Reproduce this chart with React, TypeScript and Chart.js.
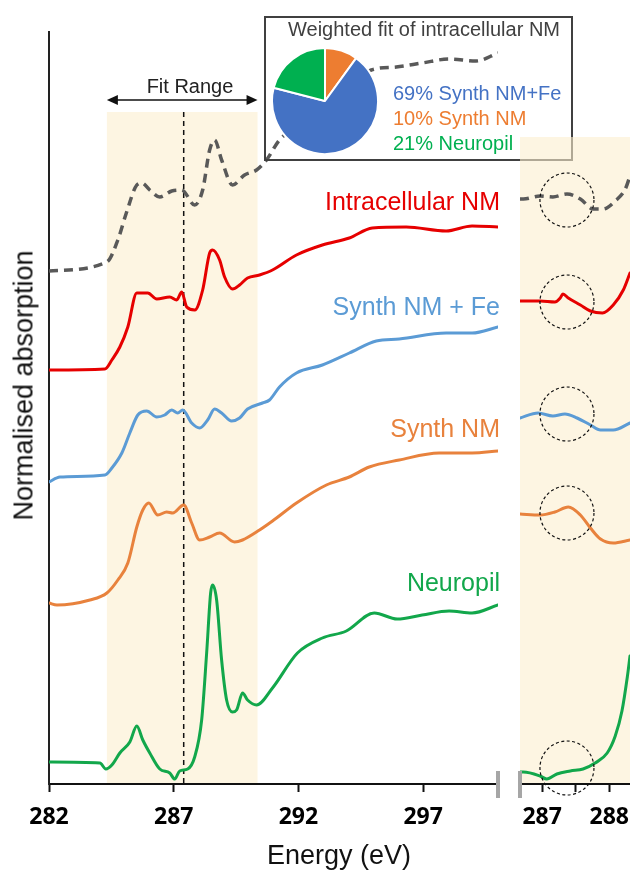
import React, { useEffect, useRef } from "react";
import { Chart, registerables } from "chart.js";

Chart.register(...registerables);

const W = 630;
const H = 870;

// ---------------- data (energy in eV, offset normalised absorption) ----------------
const fitE = [282, 284.32, 284.76, 285.1, 285.52, 285.72, 286.04, 286.44, 286.92, 287.32, 287.84, 288.16, 288.44, 288.64, 288.92, 289.36, 289.84, 290.32, 290.72, 291.24, 292.2, 293.2, 294.1, 294.92, 295.92, 296.96, 298.04, 299.12, 300];
const fitY = [513, 522, 544, 571, 599, 601, 594, 587, 593, 594, 579, 594, 634, 644, 624, 599, 609, 614, 624, 644, 662, 680, 697, 714, 717, 721, 725, 723, 731];

const intraE = [282, 284.24, 284.52, 284.84, 285.16, 285.52, 285.96, 286.32, 286.84, 287.12, 287.32, 287.52, 287.84, 288.16, 288.44, 288.56, 288.84, 289.04, 289.36, 289.64, 289.96, 290.44, 290.96, 291.92, 292.96, 294.04, 294.96, 296.32, 297.92, 298.96, 300];
const intraY = [414, 415, 424, 437, 457, 491, 491, 485, 487, 484, 492, 477, 474, 494, 531, 534, 524, 507, 495, 499, 506, 509, 514, 529, 539, 546, 556, 557, 553, 558, 557];

const feE = [282, 282.44, 284.24, 284.52, 284.92, 285.24, 285.56, 285.92, 286.32, 286.64, 286.92, 287.16, 287.36, 287.72, 288.04, 288.36, 288.64, 288.92, 289.32, 289.64, 289.96, 290.56, 290.84, 291.24, 291.92, 292.96, 294.04, 295.12, 296.04, 297.92, 298.96, 300];
const feY = [302, 307, 309, 316, 331, 351, 369, 373, 367, 369, 374, 371, 374, 361, 356, 364, 375, 371, 363, 366, 375, 381, 384, 397, 411, 419, 431, 443, 445, 451, 451, 457];

const nmE = [282, 282.32, 283.64, 284.32, 284.76, 285.16, 285.52, 285.76, 286.0, 286.36, 286.72, 286.96, 287.4, 287.72, 288.04, 288.44, 288.84, 289.44, 289.76, 290.44, 290.96, 291.92, 293.12, 294.04, 294.84, 296.04, 297.64, 298.96, 300];
const nmY = [181, 179, 184, 191, 204, 221, 257, 274, 281, 269, 272, 271, 279, 261, 244, 247, 251, 242, 244, 254, 263, 281, 299, 307, 317, 324, 331, 331, 333];

const npE = [282, 284.04, 284.28, 284.52, 284.84, 285.24, 285.52, 285.76, 286.04, 286.44, 286.84, 287.04, 287.24, 287.56, 287.84, 288.12, 288.32, 288.48, 288.56, 288.72, 288.92, 289.12, 289.36, 289.52, 289.76, 289.96, 290.32, 290.96, 291.96, 292.96, 293.92, 295.04, 295.96, 296.96, 298.04, 298.96, 300];
const npY = [22, 21, 15, 19, 31, 42, 58, 44, 31, 15, 11, 5, 13, 15, 27, 64, 131, 191, 199, 184, 124, 84, 72, 74, 91, 84, 79, 96, 131, 146, 153, 171, 165, 169, 173, 171, 179];

// zoomed panel (286.7 - 288.3 eV)
const zFitE = [286.67, 286.72, 286.97, 287.16, 287.37, 287.57, 287.76, 287.91, 288.09, 288.24, 288.31];
const zFitY = [585, 585, 588, 587, 590, 585, 575, 575, 583, 595, 608];
const zIntraE = [286.67, 286.97, 287.19, 287.27, 287.31, 287.39, 287.57, 287.72, 287.9, 288.06, 288.21, 288.31];
const zIntraY = [483, 483, 482, 486, 490, 486, 479, 473, 471, 479, 494, 511];
const zFeE = [286.67, 286.94, 287.16, 287.34, 287.52, 287.72, 287.87, 288.06, 288.31];
const zFeY = [366, 371, 368, 370, 366, 359, 354, 354, 361];
const zNmE = [286.67, 286.97, 287.19, 287.39, 287.57, 287.72, 287.87, 288.06, 288.31];
const zNmY = [270, 269, 272, 277, 269, 256, 245, 241, 244];
const zNpE = [286.67, 286.72, 286.97, 287.07, 287.22, 287.42, 287.61, 287.79, 287.97, 288.09, 288.19, 288.27, 288.31];
const zNpY = [12, 12, 8, 5, 10, 13, 15, 21, 31, 48, 73, 107, 128];

const mainTicks = [282, 287, 292, 297];
const zoomTicks = [287, 287.5, 288];
const zoomTickLabels = ["287", "", "288"];
const mainRange = [282, 300];
const zoomRange = [286.67, 288.31];
const yRange = [0, 752];
const fitRange = [284.32, 290.36];
const fitBandTop = 672;
const zoomBandTop = 647;
const arrowLevel = 684;
const markerE = 287.4;
const circleE = 287.37;
const circleY = [584, 482, 370, 271, 16];

const pieLabels = ["Synth NM", "Synth NM+Fe", "Neuropil"];
const pieValues = [10, 69, 21];

// ---------------- styles ----------------
const C = {
  fit: "#595959",
  intra: "#E60000",
  fe: "#5B9BD5",
  nm: "#E8823D",
  np: "#12A74B",
  pieBlue: "#4472C4",
  pieOrange: "#ED7D31",
  pieGreen: "#00B050",
};
const SANS = "'Liberation Sans', Arial, sans-serif";

function pts(xs: number[], ys: number[]) {
  return xs.map((x, i) => ({ x, y: ys[i] }));
}

function lineDs(xs: number[], ys: number[], color: string, dashed = false) {
  return {
    data: pts(xs, ys),
    borderColor: color,
    borderWidth: dashed ? 3.5 : 3,
    borderDash: dashed ? [9, 6] : [],
    borderCapStyle: dashed ? "butt" : "round",
    borderJoinStyle: "round",
    pointRadius: 0,
    fill: false,
    cubicInterpolationMode: "monotone",
  } as any;
}

const tickFont = { family: "'Open Sans', 'DejaVu Sans', sans-serif", weight: "bold" as const, size: 23 };

function xAxis(range: number[], ticks: number[], labels: string[] | null) {
  return {
    type: "linear",
    min: range[0],
    max: range[1],
    afterBuildTicks: (s: any) => {
      s.ticks = ticks.map((v) => ({ value: v }));
    },
    afterFit: (s: any) => {
      s.height = H - 784;
      s.paddingLeft = 0;
      s.paddingRight = 0;
    },
    grid: { display: true, drawOnChartArea: false, drawTicks: true, tickLength: 8, tickColor: "#111", tickWidth: 2 },
    border: { display: true, color: "#111", width: 2 },
    ticks: {
      font: tickFont,
      color: "#000",
      padding: 12,
      maxRotation: 0,
      autoSkip: false,
      callback: (v: any, i: number) => (labels ? labels[i] : String(v)),
    },
  } as any;
}

const mainDecor = {
  id: "mainDecor",
  beforeDraw(chart: any) {
    const { ctx, scales } = chart;
    const x = scales.x, y = scales.y;
    const x0 = x.getPixelForValue(fitRange[0]);
    const x1 = x.getPixelForValue(fitRange[1]);
    const yt = y.getPixelForValue(fitBandTop);
    const yb = y.getPixelForValue(0);
    ctx.save();
    ctx.fillStyle = "#FDF5E2";
    ctx.fillRect(x0, yt, x1 - x0, yb - yt);
    ctx.restore();
  },
  beforeDatasetsDraw(chart: any) {
    const { ctx, scales } = chart;
    const x = scales.x, y = scales.y;
    const xm = x.getPixelForValue(markerE);
    ctx.save();
    ctx.strokeStyle = "#111";
    ctx.lineWidth = 1.5;
    ctx.setLineDash([5, 4]);
    ctx.beginPath();
    ctx.moveTo(xm, y.getPixelForValue(fitBandTop));
    ctx.lineTo(xm, y.getPixelForValue(0));
    ctx.stroke();
    ctx.restore();
  },
  afterDraw(chart: any) {
    const { ctx, scales } = chart;
    const x = scales.x, y = scales.y;
    const x0 = x.getPixelForValue(fitRange[0]);
    const x1 = x.getPixelForValue(fitRange[1]);
    const ya = y.getPixelForValue(arrowLevel);
    ctx.save();
    ctx.strokeStyle = "#111";
    ctx.fillStyle = "#111";
    ctx.lineWidth = 1.5;
    ctx.beginPath();
    ctx.moveTo(x0 + 6, ya);
    ctx.lineTo(x1 - 6, ya);
    ctx.stroke();
    ctx.beginPath();
    ctx.moveTo(x0, ya);
    ctx.lineTo(x0 + 11, ya - 5);
    ctx.lineTo(x0 + 11, ya + 5);
    ctx.closePath();
    ctx.fill();
    ctx.beginPath();
    ctx.moveTo(x1, ya);
    ctx.lineTo(x1 - 11, ya - 5);
    ctx.lineTo(x1 - 11, ya + 5);
    ctx.closePath();
    ctx.fill();
    // axis break mark
    const xb = x.getPixelForValue(mainRange[1]);
    const yb = y.getPixelForValue(0);
    ctx.fillStyle = "#A6A6A6";
    ctx.fillRect(xb - 2, yb - 13, 4, 27);
    ctx.restore();
  },
};

const zoomDecor = {
  id: "zoomDecor",
  beforeDraw(chart: any) {
    const { ctx, scales, chartArea } = chart;
    const y = scales.y;
    const yt = y.getPixelForValue(zoomBandTop);
    const yb = y.getPixelForValue(0);
    ctx.save();
    ctx.fillStyle = "rgba(252,238,206,0.6)";
    ctx.fillRect(chartArea.left, yt, chartArea.right - chartArea.left, yb - yt);
    ctx.restore();
  },
  afterDatasetsDraw(chart: any) {
    const { ctx, scales } = chart;
    const x = scales.x, y = scales.y;
    const cx = x.getPixelForValue(circleE);
    ctx.save();
    ctx.strokeStyle = "#111";
    ctx.lineWidth = 1.2;
    ctx.setLineDash([3, 2.5]);
    circleY.forEach((v) => {
      ctx.beginPath();
      ctx.arc(cx, y.getPixelForValue(v), 27, 0, Math.PI * 2);
      ctx.stroke();
    });
    ctx.restore();
  },
  afterDraw(chart: any) {
    const { ctx, scales } = chart;
    const x = scales.x, y = scales.y;
    const xb = x.left;
    const yb = y.getPixelForValue(0);
    ctx.save();
    ctx.fillStyle = "#A6A6A6";
    ctx.fillRect(xb - 2, yb - 13, 4, 27);
    ctx.restore();
  },
};

function Label(props: { text: string; x: number; base: number; size: number; color: string; align?: "left" | "right" | "center" }) {
  const { text, x, base, size, color, align = "left" } = props;
  const top = base - 0.8465 * size;
  const style: any = {
    position: "absolute",
    top,
    fontFamily: SANS,
    fontSize: size,
    lineHeight: `${size}px`,
    color,
    whiteSpace: "nowrap",
    zIndex: 5,
  };
  if (align === "left") style.left = x;
  else if (align === "right") style.right = W - x;
  else {
    style.left = x - 300;
    style.width = 600;
    style.textAlign = "center";
  }
  return <div style={style}>{text}</div>;
}

export default function App() {
  const mainRef = useRef<HTMLCanvasElement | null>(null);
  const zoomRef = useRef<HTMLCanvasElement | null>(null);
  const pieRef = useRef<HTMLCanvasElement | null>(null);

  useEffect(() => {
    const yAxisMain = {
      min: yRange[0],
      max: yRange[1],
      display: true,
      grid: { display: false },
      ticks: { display: false },
      border: { display: true, color: "#222", width: 2 },
      afterFit: (s: any) => {
        s.width = 49;
      },
    } as any;

    const main = new Chart(mainRef.current as HTMLCanvasElement, {
      type: "line",
      data: {
        datasets: [
          lineDs(npE, npY, C.np),
          lineDs(nmE, nmY, C.nm),
          lineDs(feE, feY, C.fe),
          lineDs(intraE, intraY, C.intra),
          lineDs(fitE, fitY, C.fit, true),
        ],
      },
      options: {
        responsive: false,
        animation: false,
        events: [],
        layout: { padding: { left: 0, top: 32, right: W - 498, bottom: 0 } },
        plugins: { legend: { display: false }, tooltip: { enabled: false } },
        scales: { x: xAxis(mainRange, mainTicks, null), y: yAxisMain },
      },
      plugins: [mainDecor],
    } as any);

    const zoom = new Chart(zoomRef.current as HTMLCanvasElement, {
      type: "line",
      data: {
        datasets: [
          lineDs(zNpE, zNpY, C.np),
          lineDs(zNmE, zNmY, C.nm),
          lineDs(zFeE, zFeY, C.fe),
          lineDs(zIntraE, zIntraY, C.intra),
          lineDs(zFitE, zFitY, C.fit, true),
        ],
      },
      options: {
        responsive: false,
        animation: false,
        events: [],
        layout: { padding: { left: 520, top: 32, right: 0, bottom: 0 } },
        plugins: { legend: { display: false }, tooltip: { enabled: false } },
        scales: {
          x: xAxis(zoomRange, zoomTicks, zoomTickLabels),
          y: { min: yRange[0], max: yRange[1], display: false },
        },
      },
      plugins: [zoomDecor],
    } as any);

    const pie = new Chart(pieRef.current as HTMLCanvasElement, {
      type: "pie",
      data: {
        labels: pieLabels,
        datasets: [
          {
            data: pieValues,
            backgroundColor: [C.pieOrange, C.pieBlue, C.pieGreen],
            borderColor: "#ffffff",
            borderWidth: 2,
          },
        ],
      },
      options: {
        responsive: false,
        animation: false,
        events: [],
        plugins: { legend: { display: false }, tooltip: { enabled: false } },
      },
    } as any);

    return () => {
      main.destroy();
      zoom.destroy();
      pie.destroy();
    };
  }, []);

  return (
    <div style={{ position: "absolute", left: 0, top: 0, width: W, height: H, background: "#fff", overflow: "hidden" }}>
      <canvas ref={mainRef} width={W} height={H} style={{ position: "absolute", left: 0, top: 0, width: W, height: H, zIndex: 1 }} />
      <div
        style={{
          position: "absolute",
          left: 264,
          top: 16,
          width: 309,
          height: 145,
          border: "2px solid #404040",
          boxSizing: "border-box",
          zIndex: 2,
        }}
      />
      <canvas ref={pieRef} width={108} height={108} style={{ position: "absolute", left: 271, top: 47, width: 108, height: 108, zIndex: 2 }} />
      <canvas ref={zoomRef} width={W} height={H} style={{ position: "absolute", left: 0, top: 0, width: W, height: H, zIndex: 3 }} />

      <Label text="Weighted fit of intracellular NM" x={424} base={36} size={20} color="#404040" align="center" />
      <Label text="69% Synth NM+Fe" x={393} base={100} size={20} color={C.pieBlue} />
      <Label text="10% Synth NM" x={393} base={125} size={20} color={C.pieOrange} />
      <Label text="21% Neuropil" x={393} base={150} size={20} color={C.pieGreen} />

      <Label text="Fit Range" x={190} base={93} size={20} color="#222" align="center" />

      <Label text="Intracellular NM" x={500} base={210} size={25} color={C.intra} align="right" />
      <Label text="Synth NM + Fe" x={500} base={315} size={25} color={C.fe} align="right" />
      <Label text="Synth NM" x={500} base={437} size={25} color={C.nm} align="right" />
      <Label text="Neuropil" x={500} base={591} size={25} color={C.np} align="right" />

      <Label text="Energy (eV)" x={339} base={865} size={27} color="#111" align="center" />
      <div
        style={{
          position: "absolute",
          left: 23.6 - 200,
          top: 385 - 13.5,
          width: 400,
          height: 27,
          lineHeight: "27px",
          fontSize: 27,
          fontFamily: SANS,
          color: "#111",
          textAlign: "center",
          whiteSpace: "nowrap",
          transform: "rotate(-90deg)",
          transformOrigin: "50% 50%",
          zIndex: 5,
        }}
      >
        Normalised absorption
      </div>
    </div>
  );
}
